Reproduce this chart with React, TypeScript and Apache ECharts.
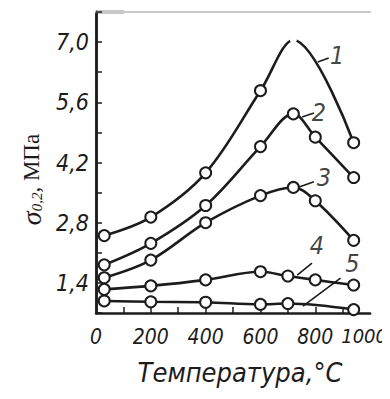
import React, { useEffect, useRef } from "react";
import * as echarts from "echarts";

// Curve data: temperature (°C) and σ0,2 (MPa)
const curve1T = [30, 200, 400, 600, 720, 940];
const curve1V = [2.5, 2.93, 3.96, 5.87, 7.05, 4.66];
const curve2T = [30, 200, 400, 600, 720, 800, 940];
const curve2V = [1.82, 2.32, 3.2, 4.57, 5.33, 4.79, 3.85];
const curve3T = [30, 200, 400, 600, 720, 800, 940];
const curve3V = [1.52, 1.93, 2.8, 3.43, 3.62, 3.31, 2.39];
const curve4T = [30, 200, 400, 600, 700, 800, 940];
const curve4V = [1.25, 1.33, 1.47, 1.66, 1.56, 1.47, 1.35];
const curve5T = [30, 200, 400, 600, 700, 940];
const curve5V = [0.98, 0.96, 0.95, 0.9, 0.92, 0.78];

const curveNames = ["1", "2", "3", "4", "5"];
// label anchor points (temperature, value)
const labelT = [880, 813, 831, 806, 935];
const labelV = [6.7, 5.37, 3.86, 2.28, 1.86];
// leader lines start/end
const leaderT0 = [809, 752, 741, 734, 755];
const leaderV0 = [6.54, 5.26, 3.63, 1.58, 0.86];
const leaderT1 = [849, 795, 795, 788, 892];
const leaderV1 = [6.63, 5.35, 3.75, 1.86, 1.51];

const xTickValues = [100, 200, 300, 400, 500, 600, 700, 800, 900];
const xLabelValues = [0, 200, 400, 600, 800, 1000];
const yLabelValues = [1.4, 2.8, 4.2, 5.6, 7.0];

const INK = "#1c1c1c";
const NARROW = "'DejaVu Sans Condensed', 'Liberation Sans Narrow', sans-serif";
const SERIF = "'Liberation Serif', 'DejaVu Serif', serif";

function pairs(t: number[], v: number[]) {
  return t.map((x, i) => [x, v[i]]);
}

export default function App() {
  const ref = useRef<HTMLDivElement>(null);
  useEffect(() => {
    if (!ref.current) return;
    const chart = echarts.init(ref.current, null, { renderer: "svg" });
    const curves = [
      pairs(curve1T, curve1V),
      pairs(curve2T, curve2V),
      pairs(curve3T, curve3V),
      pairs(curve4T, curve4V),
      pairs(curve5T, curve5V),
    ];
    const lineSeries: any[] = curves.map((data, ci) => ({
      type: "line",
      name: curveNames[ci],
      data: data.map((p, i) =>
        ci === 0 && i === 4
          ? { value: p, symbolSize: 6, itemStyle: { borderColor: "#ffffff", borderWidth: 1 } }
          : { value: p }
      ),
      smooth: 0.35,
      symbol: "circle",
      symbolSize: 11,
      showAllSymbol: true,
      lineStyle: { color: INK, width: 2.6 },
      itemStyle: { color: "#ffffff", borderColor: INK, borderWidth: 2 },
      z: 3,
    }));
    const leaderSeries: any[] = curveNames.map((n, i) => ({
      type: "line",
      name: "leader" + n,
      data: [
        [leaderT0[i], leaderV0[i]],
        [leaderT1[i], leaderV1[i]],
      ],
      symbol: "none",
      lineStyle: { color: INK, width: 1.6 },
      z: 2,
    }));
    const labelSeries = {
      type: "scatter",
      name: "labels",
      symbolSize: 0,
      data: curveNames.map((n, i) => ({ name: n, value: [labelT[i], labelV[i]] })),
      label: {
        show: true,
        position: "inside",
        formatter: (p: any) => p.name,
        color: "#111",
        fontFamily: NARROW,
        fontStyle: "italic",
        fontSize: 25,
      },
      z: 4,
    };

    chart.setOption({
      animation: false,
      backgroundColor: "#ffffff",
      grid: { left: 96, right: 16, top: 12, bottom: 86 },
      xAxis: [
        {
          type: "value",
          min: 0,
          max: 1000,
          name: "Температура,°C",
          nameLocation: "middle",
          nameGap: 46,
          nameTextStyle: {
            fontFamily: NARROW,
            fontStyle: "italic",
            fontSize: 27,
            color: INK,
            padding: [0, 0, 0, 14],
          },
          splitLine: { show: false },
          axisLine: { show: true, lineStyle: { color: INK, width: 2.5 } },
          axisTick: {
            show: true,
            inside: true,
            length: 6,
            customValues: xTickValues,
            lineStyle: { color: INK, width: 1.5 },
          },
          axisLabel: {
            customValues: xLabelValues,
            showMaxLabel: true,
            showMinLabel: true,
            hideOverlap: false,
            formatter: (v: number) => (v === 1000 ? "{last|1000}" : String(v)),
            rich: {
              last: {
                fontFamily: NARROW,
                fontStyle: "italic",
                fontSize: 20,
                color: INK,
                padding: [0, 12, 0, 0],
              },
            },
            margin: 13,
            color: INK,
            fontFamily: NARROW,
            fontStyle: "italic",
            fontSize: 21,
          },
        },
        {
          type: "value",
          position: "top",
          min: 0,
          max: 1000,
          axisLine: { show: true, lineStyle: { color: "#c8c8c8", width: 2 } },
          axisTick: { show: false },
          axisLabel: { show: false },
          splitLine: { show: false },
        },
      ],
      yAxis: [
        {
          type: "value",
          min: 0.7,
          max: 7.7,
          interval: 0.7,
          name: "{s|σ}{sub|0,2}{n|, МПа}",
          nameLocation: "middle",
          nameGap: 44,
          nameRotate: 90,
          nameTextStyle: {
            padding: [0, 34, 0, 0],
            rich: {
              s: {
                fontFamily: SERIF,
                fontStyle: "italic",
                fontSize: 28,
                color: INK,
              },
              sub: {
                fontFamily: SERIF,
                fontStyle: "italic",
                fontSize: 15,
                color: INK,
                padding: [12, 0, 0, 0],
              },
              n: {
                fontFamily: SERIF,
                fontSize: 23,
                color: INK,
              },
            },
          },
          splitLine: { show: false },
          axisLine: { show: true, lineStyle: { color: INK, width: 2.5 } },
          axisTick: {
            show: true,
            inside: true,
            length: 6,
            lineStyle: { color: INK, width: 1.5 },
          },
          axisLabel: {
            customValues: yLabelValues,
            formatter: (v: number) => v.toFixed(1).replace(".", ","),
            margin: 7,
            color: INK,
            fontFamily: NARROW,
            fontStyle: "italic",
            fontSize: 23,
          },
        },
        {
          type: "value",
          position: "right",
          min: 0.7,
          max: 7.7,
          axisLine: { show: true, lineStyle: { color: INK, width: 2.5 } },
          axisTick: { show: false },
          axisLabel: { show: false },
          splitLine: { show: false },
        },
      ],
      graphic: [
        {
          type: "line",
          shape: { x1: 96, y1: 12, x2: 124, y2: 12 },
          style: { stroke: INK, lineWidth: 2.5 },
        },
      ],
      series: [...lineSeries, ...leaderSeries, labelSeries],
    });
    return () => chart.dispose();
  }, []);
  return <div ref={ref} style={{ width: 390, height: 399, margin: -8 }} />;
}
